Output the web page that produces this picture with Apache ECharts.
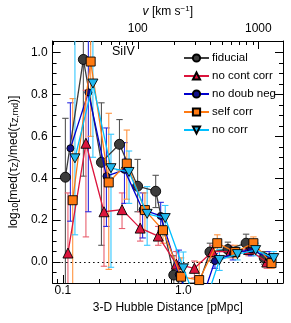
<!DOCTYPE html>
<html><head><meta charset="utf-8">
<script src="https://cdn.jsdelivr.net/npm/echarts@6/dist/echarts.min.js"></script>
<style>html,body{margin:0;padding:0;background:#fff}#c{width:291px;height:323px}</style>
</head><body><div id="c"></div>
<script>
// ---- data ----
const distances = [0.105,0.148,0.209,0.295,0.417,0.589,0.832,1.175,1.66,2.34,3.31,4.68];
const seriesNames = ['fiducial','no cont corr','no doub neg','self corr','no corr'];
const ditherFactors = [1.0,1.05,1.10,1.15,1.20];

const fiducial   = [0.405,0.967,0.476,0.562,0.362,0.338,-0.062,-0.20,0.048,0.060,0.090,0.020];
const fiducialLo = [-0.30,0.41,0.08,0.44,0.24,0.26,-0.15,-0.35,0.005,0.025,0.050,-0.010];
const fiducialHi = [0.686,1.30,0.76,0.68,0.49,0.414,0.03,-0.10,0.090,0.095,0.133,0.050];

const noContCorr   = [0.043,0.567,0.240,0.250,0.162,0.124,-0.010,-0.030,0.050,0.050,0.060,0.000];
const noContCorrLo = [-0.30,0.12,-0.02,0.16,0.10,0.08,-0.06,-0.075,0.020,0.020,0.030,-0.030];
const noContCorrHi = [0.33,0.82,0.48,0.33,0.24,0.17,0.05,0.005,0.080,0.080,0.090,0.030];

const noDoubNeg   = [0.543,0.810,0.410,0.440,0.250,0.220,-0.060,-0.25,0.005,0.040,0.060,0.020];
const noDoubNegLo = [0.195,0.24,0.17,0.28,0.115,0.15,-0.15,-0.40,-0.030,0.010,0.030,-0.010];
const noDoubNegHi = [0.76,1.30,0.64,0.57,0.33,0.285,0.057,-0.10,0.040,0.070,0.090,0.050];

const selfCorr   = [0.295,0.957,0.380,0.470,0.248,0.152,-0.070,-0.086,0.090,0.048,0.090,-0.005];
const selfCorrLo = [-0.30,0.60,-0.035,0.30,0.15,0.09,-0.15,-0.20,0.050,0.020,0.060,-0.030];
const selfCorrHi = [0.78,1.30,0.71,0.63,0.33,0.22,0.02,0.00,0.130,0.080,0.120,0.020];

const noCorr   = [0.495,0.852,0.448,0.430,0.230,0.210,-0.030,-0.25,0.010,0.038,0.057,0.019];
const noCorrLo = [0.13,0.50,-0.025,0.28,0.08,0.13,-0.11,-0.40,-0.040,0.010,0.030,-0.010];
const noCorrHi = [1.30,1.30,0.61,0.53,0.36,0.27,0.048,-0.10,0.060,0.070,0.090,0.050];

const xTickMajor = [0.1, 1.0];
const xTickLabels = ['0.1', '1.0'];
const xTickMinor = [0.09,0.2,0.3,0.4,0.5,0.6,0.7,0.8,0.9,2,3,4,5,6];
const hubble = 239; // km/s per pMpc
const vTickMajor = [100, 1000];
const vTickLabels = ['100', '1000'];
const vTickMinor = [20,30,40,50,60,70,80,90,200,300,400,500,600,700,800,900];
const yTickMajor = [0,0.2,0.4,0.6,0.8,1.0];
const yTickMinor = [-0.05,0.05,0.1,0.15,0.25,0.3,0.35,0.45,0.5,0.55,0.65,0.7,0.75,0.85,0.9,0.95];

// ---- styles ----
const lineColors = ['#3c3c3c','#dc143c','#0000cd','#ff7a12','#00bfff'];
const fillColors = ['#3c3c3c','#dc143c','#10108a','#ff7a12','#22b8ee'];
const barColors  = ['#555555','#e8606f','#2a2ae0','#ff9440','#35c8ff'];
const symbols = ['circle','triangle','circle','rect','path://M0,0 L10,0 L5,8.7 Z'];
const symbolSizes = [10,10,7,9,[10,9]];

const values = [fiducial,noContCorr,noDoubNeg,selfCorr,noCorr];
const los = [fiducialLo,noContCorrLo,noDoubNegLo,selfCorrLo,noCorrLo];
const his = [fiducialHi,noContCorrHi,noDoubNegHi,selfCorrHi,noCorrHi];

const L = Math.log10;
const xMin = -1.085, xMax = 0.826, yMin = -0.1, yMax = 1.055;
const font = 'Liberation Sans, Arial, Helvetica, sans-serif';

function xAxisDef(pos, major, labels, minor, showLine, showLabel) {
  return {
    type: 'value', position: pos, min: xMin, max: xMax, gridIndex: 0,
    axisLine: {show: showLine, onZero: false, lineStyle: {color: '#000', width: 1}},
    splitLine: {show: false},
    axisTick: {show: true, inside: true, length: minor ? 4 : 8, lineStyle: {color: '#000', width: 1},
      customValues: major},
    axisLabel: showLabel ? {show: true, customValues: major, margin: pos === 'bottom' ? 2 : 6,
      color: '#000', fontSize: 12, fontFamily: font,
      formatter: (v) => { const i = major.findIndex(m => Math.abs(m - v) < 1e-6); return i >= 0 ? labels[i] : ''; }}
      : {show: false}
  };
}
function yAxisDef(pos, ticks, minor, showLabel) {
  return {
    type: 'value', position: pos, min: yMin, max: yMax, gridIndex: 0,
    axisLine: {show: !minor, onZero: false, lineStyle: {color: '#000', width: 1}},
    splitLine: {show: false},
    axisTick: {show: true, inside: true, length: minor ? 4 : 8, lineStyle: {color: '#000', width: 1}, customValues: ticks},
    axisLabel: showLabel ? {show: true, customValues: ticks, margin: 5, color: '#000', fontSize: 12, fontFamily: font,
      formatter: v => v.toFixed(1)} : {show: false}
  };
}

const xAxes = [
  Object.assign(xAxisDef('bottom', xTickMajor.map(L), xTickLabels, false, true, true), {
    name: '3-D Hubble Distance [pMpc]', nameLocation: 'middle', nameGap: 15,
    nameTextStyle: {color: '#000', fontSize: 12, fontFamily: font}
  }),
  xAxisDef('bottom', xTickMinor.map(L), null, true, false, false),
  Object.assign(xAxisDef('top', vTickMajor.map(v => L(v / hubble)), vTickLabels, false, true, true), {
    name: '{i|v} [km s{sup|−1}]', nameLocation: 'middle', nameGap: 20,
    nameTextStyle: {color: '#000', fontSize: 12, fontFamily: font,
      rich: {i: {fontStyle: 'italic', fontSize: 12, fontFamily: font, padding: [0,0,0,0]},
             sup: {fontSize: 8, fontFamily: font, padding: [0,0,6,0]}}}
  }),
  xAxisDef('top', vTickMinor.map(v => L(v / hubble)), null, true, false, false)
];
const yAxes = [
  Object.assign(yAxisDef('left', yTickMajor, false, true), {
    name: '{n|log}{s|10}{n|[med(τ}{s|Z}{n|)/med(τ}{s|Z,rnd}{n|)]}',
    nameLocation: 'middle', nameGap: 28, nameRotate: 90,
    nameTextStyle: {color: '#000', fontFamily: font,
      rich: {n: {fontSize: 12, fontFamily: font, padding: [0,0,3,0]},
             s: {fontSize: 8.5, fontFamily: font}}}
  }),
  yAxisDef('left', yTickMinor, true, false),
  yAxisDef('right', yTickMajor, false, false),
  yAxisDef('right', yTickMinor, true, false)
];

const series = [];
// error bars
values.forEach((vals, si) => {
  const data = distances.map((d, i) => [L(d * ditherFactors[si]), vals[i], los[si][i], his[si][i]]);
  series.push({
    type: 'custom', xAxisIndex: 0, yAxisIndex: 0, clip: true, silent: true, z: 2,
    data: data,
    renderItem: (params, api) => {
      const x = api.value(0);
      const p1 = api.coord([x, api.value(2)]);
      const p2 = api.coord([x, api.value(3)]);
      const cw = 3.2;
      const st = {stroke: barColors[si], lineWidth: 1.1, fill: null};
      return {type: 'group', children: [
        {type: 'line', shape: {x1: p1[0], y1: p1[1], x2: p2[0], y2: p2[1]}, style: st},
        {type: 'line', shape: {x1: p1[0] - cw, y1: p1[1], x2: p1[0] + cw, y2: p1[1]}, style: st},
        {type: 'line', shape: {x1: p2[0] - cw, y1: p2[1], x2: p2[0] + cw, y2: p2[1]}, style: st}
      ]};
    }
  });
});
// lines + markers
values.forEach((vals, si) => {
  series.push({
    type: 'line', name: seriesNames[si], xAxisIndex: 0, yAxisIndex: 0, clip: true, z: 3 + si,
    data: distances.map((d, i) => [L(d * ditherFactors[si]), vals[i]]),
    symbol: symbols[si], symbolSize: symbolSizes[si], showAllSymbol: true,
    lineStyle: {color: lineColors[si], width: 1.3},
    itemStyle: {color: fillColors[si], borderColor: '#000', borderWidth: 0.9},
    emphasis: {disabled: true}, animation: false,
    markLine: si === 0 ? {silent: true, symbol: 'none', label: {show: false},
      lineStyle: {color: '#000', type: [1.5, 3], width: 1}, data: [{yAxis: 0}]} : undefined
  });
});

const chart = echarts.init(document.getElementById('c'), null, {renderer: 'canvas'});
chart.setOption({
  animation: false,
  backgroundColor: '#fff',
  grid: {left: 47, right: 8, top: 41, bottom: 40, containLabel: false},
  xAxis: xAxes,
  yAxis: yAxes,
  legend: {
    orient: 'vertical', left: 178, top: 47, itemWidth: 25, itemHeight: 9, itemGap: 6,
    textStyle: {color: '#000', fontSize: 11.5, fontFamily: font, padding: [0,0,0,-2]},
    data: seriesNames
  },
  graphic: [{type: 'text', left: 112, top: 45,
    style: {text: 'SiIV', fill: '#000', fontSize: 12.5, fontFamily: font}}],
  series: series
});
</script></body></html>
